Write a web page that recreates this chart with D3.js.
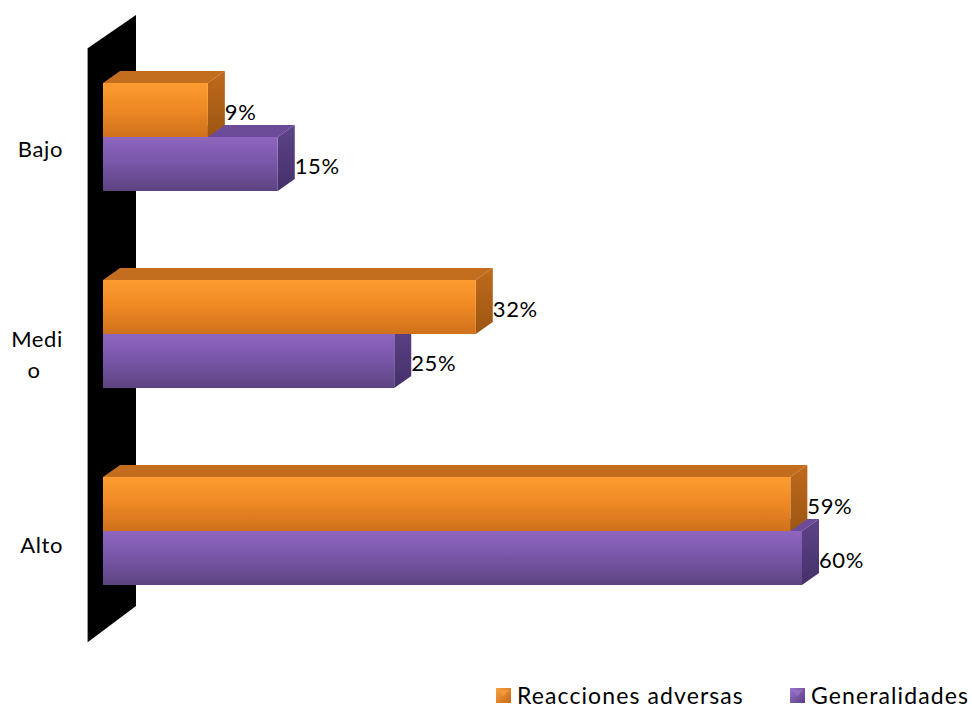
<!DOCTYPE html>
<html><head><meta charset="utf-8">
<script src="https://cdn.jsdelivr.net/npm/d3@7/dist/d3.min.js"></script>
<style>body{margin:0;background:#fff}svg{display:block}text{font-family:Lato,"Open Sans",sans-serif;fill:#000}</style>
</head><body>
<svg id="c" width="972" height="710"></svg>
<script>
const categories = ["Bajo", "Medio", "Alto"];
const categoryLabelLines = [["Bajo"], ["Medi", "o"], ["Alto"]];
const series = ["Reacciones adversas", "Generalidades"];
const reacciones = [9, 32, 59];
const generalidades = [15, 25, 60];
const valueLabels = [["9%", "32%", "59%"], ["15%", "25%", "60%"]];

const svg = d3.select("#c");
const defs = svg.append("defs");
const colors = {
  "Reacciones adversas": {front:["#fd9c31","#f08a24","#cf711c"], top:"#c36d1f", side:["#c06a1c","#9c5612"], leg:["#f7a040","#c86a16"]},
  "Generalidades": {front:["#8e66bf","#7a57aa","#5d4381"], top:"#6c4c98", side:["#5e4388","#44306a"], leg:["#9c74cc","#5a3f86"]}
};
series.forEach((s,i)=>{
  const c = colors[s];
  const g = defs.append("linearGradient").attr("id","f"+i).attr("x1",0).attr("y1",0).attr("x2",0).attr("y2",1);
  g.append("stop").attr("offset","0").attr("stop-color",c.front[0]);
  g.append("stop").attr("offset","0.45").attr("stop-color",c.front[1]);
  g.append("stop").attr("offset","1").attr("stop-color",c.front[2]);
  const gs = defs.append("linearGradient").attr("id","s"+i).attr("x1",0).attr("y1",0).attr("x2",0).attr("y2",1);
  gs.append("stop").attr("offset","0").attr("stop-color",c.side[0]);
  gs.append("stop").attr("offset","1").attr("stop-color",c.side[1]);
  const gl = defs.append("linearGradient").attr("id","l"+i).attr("x1",0).attr("y1",0).attr("x2",1).attr("y2",1);
  gl.append("stop").attr("offset","0").attr("stop-color",c.leg[0]);
  gl.append("stop").attr("offset","1").attr("stop-color",c.leg[1]);
});

const x = d3.scaleLinear().domain([0, 60]).range([103, 802]);
const y = d3.scaleBand().domain(categories).range([83, 585]).paddingInner(89/197).paddingOuter(0);
const ys = d3.scaleBand().domain(series).range([0, y.bandwidth()]);
const dx = 17, dy = -12;

// wall
svg.append("polygon").attr("points", [[88,48],[136,15],[136,606],[88,642]].join(" ")).attr("fill","#000");
svg.append("line").attr("x1",87.5).attr("x2",87.5).attr("y1",48).attr("y2",642).attr("stroke","#999").attr("stroke-width",1);

const data = [];
categories.forEach((c,ci)=>{
  data.push({cat:c, s:series[1], si:1, v:generalidades[ci], lab:valueLabels[1][ci]});
  data.push({cat:c, s:series[0], si:0, v:reacciones[ci], lab:valueLabels[0][ci]});
});

const bars = svg.append("g").selectAll("g").data(data).join("g");
bars.each(function(d){
  const g = d3.select(this);
  const x0 = x(0), x1 = x(d.v);
  const y0 = y(d.cat) + ys(d.s), y1 = y0 + ys.bandwidth();
  g.append("polygon").attr("points",[[x0,y0],[x0+dx,y0+dy],[x1+dx,y0+dy],[x1,y0]].join(" "))
    .attr("fill", colors[d.s].top);
  g.append("polygon").attr("points",[[x1,y0],[x1+dx,y0+dy],[x1+dx,y1+dy],[x1,y1]].join(" "))
    .attr("fill", `url(#s${d.si})`);
  g.append("rect").attr("x",x0).attr("y",y0).attr("width",x1-x0).attr("height",y1-y0)
    .attr("fill", `url(#f${d.si})`);
  g.append("text").attr("x", x1+dx).attr("y", (y0+y1)/2 + 10)
    .attr("font-size", 22).attr("letter-spacing", 0.6).text(d.lab);
});

// category labels
categories.forEach((c,ci)=>{
  const lines = categoryLabelLines[ci];
  const base = y(c) + 74;
  if (lines.length === 1) {
    svg.append("text").attr("x",63).attr("y",base+ (ci===2?2:0)).attr("text-anchor","end")
      .attr("font-size",22).attr("letter-spacing",0.6).text(lines[0]);
  } else {
    const t = svg.append("text").attr("font-size",22).attr("letter-spacing",0.6).attr("text-anchor","middle");
    t.append("tspan").attr("x",37).attr("y",y(c)+67).text(lines[0]);
    t.append("tspan").attr("x",34).attr("y",y(c)+98).text(lines[1]);
  }
});

// legend
const legX = [496, 790];
series.forEach((s,i)=>{
  const g = svg.append("g").attr("transform",`translate(${legX[i]},688)`);
  g.append("rect").attr("width",15).attr("height",15).attr("fill",`url(#l${i})`);
  g.append("polygon").attr("points","2,2 13,2 7.5,8").attr("fill",colors[s].leg[0]).attr("opacity",0.7);
  g.append("text").attr("x",21).attr("y",16).attr("font-size",23).attr("letter-spacing",1.1).text(s);
});
</script>
</body></html>
